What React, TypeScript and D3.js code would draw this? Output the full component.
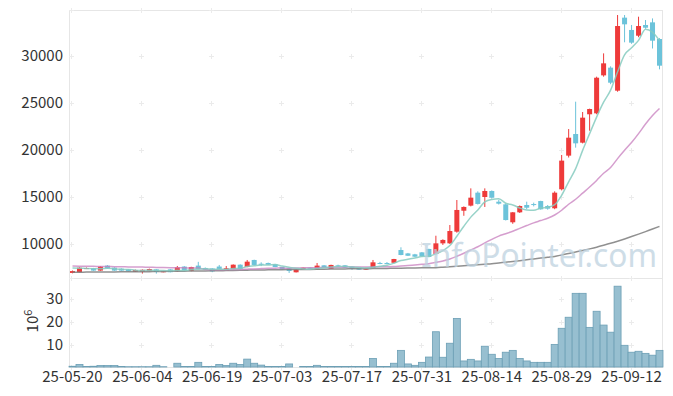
import React from 'react';
import * as d3 from 'd3';

const dates = [
  '25-05-20','25-05-21','25-05-22','25-05-23','25-05-26','25-05-27','25-05-28','25-05-29','25-05-30','25-06-02',
  '25-06-04','25-06-05','25-06-09','25-06-10','25-06-11','25-06-12','25-06-13','25-06-16','25-06-17','25-06-18',
  '25-06-19','25-06-20','25-06-23','25-06-24','25-06-25','25-06-26','25-06-27','25-06-30','25-07-01','25-07-02',
  '25-07-03','25-07-04','25-07-07','25-07-08','25-07-09','25-07-10','25-07-11','25-07-14','25-07-15','25-07-16',
  '25-07-17','25-07-18','25-07-21','25-07-22','25-07-23','25-07-24','25-07-25','25-07-28','25-07-29','25-07-30',
  '25-07-31','25-08-01','25-08-04','25-08-05','25-08-06','25-08-07','25-08-08','25-08-11','25-08-12','25-08-13',
  '25-08-14','25-08-18','25-08-19','25-08-20','25-08-21','25-08-22','25-08-25','25-08-26','25-08-27','25-08-28',
  '25-08-29','25-09-01','25-09-02','25-09-03','25-09-04','25-09-05','25-09-08','25-09-09','25-09-10','25-09-11',
  '25-09-12','25-09-15','25-09-16','25-09-17','25-09-18',
];

const opens = [
  6920,7000,7380,7420,7170,7700,7480,7370,7300,7050,
  7050,7130,7300,7020,7300,7100,7600,7130,7700,7450,
  7400,7600,7190,7340,7800,7550,8300,7900,7980,7850,
  7550,7410,6990,7270,7480,7270,7730,7370,7730,7730,
  7590,7450,7270,7450,7980,7980,8000,9360,9000,8900,
  9110,9470,8940,10070,10070,11310,13540,14080,15460,15000,
  15640,14500,14220,12310,13370,14150,14250,14570,14040,13800,
  15820,19400,21700,20780,23800,23900,27940,28760,26310,34080,
  32770,32160,33300,33580,31810,
];
const highs = [
  7180,7520,7500,7460,7650,7750,7520,7400,7330,7280,
  7300,7380,7320,7130,7330,7660,7650,7580,8100,7500,
  7430,7770,7660,7830,7840,8300,8330,8050,8020,7880,
  7570,7440,7290,7500,7500,7980,7760,7800,7800,7760,
  7620,7470,7470,8300,8100,8080,8420,9650,9050,8950,
  9150,9500,10880,10500,12020,14680,14000,15920,15600,15920,
  15700,14700,14300,13400,14100,14500,14400,14600,14150,15600,
  19470,22230,25140,24040,24400,27800,30280,28900,34360,34360,
  33300,34180,33830,34000,31900,
];
const lows = [
  6880,6980,7350,7150,7150,7380,7150,7150,7080,7020,
  6850,7100,6850,6990,6980,7080,7180,7100,7320,7260,
  7000,7330,7170,7320,7320,7530,7720,7650,7780,7530,
  7280,6920,6970,7250,7380,7250,7460,7350,7580,7460,
  7250,7250,7250,7430,7850,7850,7980,8800,8720,8620,
  8650,8580,8900,9900,10000,11200,13000,14000,14200,13940,
  14850,14200,12500,12150,13300,13700,14000,13650,13650,13700,
  15700,19200,20250,20700,22050,23800,27800,27000,26200,31460,
  31300,32000,32900,30800,28580,
];
const closes = [
  7120,7480,7440,7170,7590,7410,7170,7170,7100,7230,
  7250,7340,7030,7100,7000,7520,7200,7550,7340,7280,
  7080,7350,7420,7800,7340,8120,7770,7820,7800,7550,
  7300,7130,7270,7480,7400,7700,7480,7770,7620,7480,
  7400,7270,7450,8050,7950,7940,8400,8830,8750,8650,
  8690,8620,10070,10430,11380,13620,13940,14930,14260,15640,
  14930,14290,12550,13370,14040,13860,14150,13690,13760,15460,
  18870,21310,20710,23440,24360,27690,29220,27160,33190,33370,
  31420,33190,33010,31630,28970,
];
// volume, millions of shares
const volumes = [
  0.9,1.7,0.8,0.9,1.2,1.2,1.2,0.8,0.7,0.7,
  0.7,0.7,1.3,0.7,0.5,2.2,0.8,0.8,2.6,0.8,
  0.8,1.7,1.2,2.2,1.7,4.0,2.2,1.4,0.8,0.8,
  0.8,1.9,0.2,0.8,0.8,1.3,0.8,0.8,0.8,0.8,
  0.8,0.8,0.8,4.3,0.8,0.8,2.2,7.8,1.9,1.3,
  2.6,4.9,15.9,4.8,10.9,21.7,3.2,3.9,3.2,9.6,
  6.1,4.3,7.0,7.8,4.3,3.2,2.6,2.6,2.6,10.4,
  17.4,22.2,32.6,32.6,17.8,24.8,18.8,15.7,35.7,10.0,
  7.0,7.4,6.5,5.7,7.8,
];
// moving-average values before enough history is available
const ma5Lead = [7450, 7420, 7400, 7380];
const ma20Lead = [7650,7640,7630,7620,7610,7600,7590,7580,7560,7550,7540,7530,7510,7500,7480,7470,7460,7450,7440];
// long moving average (grey line)
const maLong = [
  7000,7005,7010,7015,7020,7025,7030,7035,7040,7045,
  7050,7060,7070,7080,7090,7100,7110,7120,7130,7140,
  7150,7160,7170,7185,7200,7215,7230,7240,7250,7260,
  7270,7275,7280,7290,7300,7310,7320,7330,7340,7350,
  7360,7370,7375,7385,7395,7405,7415,7430,7440,7450,
  7460,7470,7485,7530,7580,7630,7680,7740,7800,7850,
  7900,7980,8060,8140,8230,8320,8410,8500,8590,8680,
  8830,8990,9150,9310,9480,9660,9860,10070,10300,10540,
  10790,11050,11320,11600,11870,
];

const priceTicks = [10000, 15000, 20000, 25000, 30000];
const volTicks = [10, 20, 30];
const xTickLabels = ['25-05-20','25-06-04','25-06-19','25-07-03','25-07-17','25-07-31','25-08-14','25-08-29','25-09-12'];

const W = 673, H = 396;
const L = 69, R = 663;
const PT = 10, PB = 277, VT = 278, VB = 367;
const FONT = '"Noto Sans CJK KR", "Noto Sans", sans-serif';

function movingAvg(n: number, lead: number[]) {
  return closes.map((_, i) => {
    if (i < n - 1) return lead[i];
    return d3.mean(closes.slice(i - n + 1, i + 1)) as number;
  });
}

function Plus({ x, y }: { x: number; y: number }) {
  return (
    <g stroke="#ebebeb" strokeWidth={1}>
      <line x1={x - 2.5} x2={x + 2.5} y1={y} y2={y} />
      <line x1={x} x2={x} y1={y - 2.5} y2={y + 2.5} />
    </g>
  );
}

export default function App() {
  const idx = dates.map((_, i) => i);
  const x = d3.scaleBand<number>().domain(idx).range([L, R]).padding(0);
  const step = x.bandwidth();
  const cx = (i: number) => (x(i) as number) + step / 2;
  const y = d3.scaleLinear().domain([6489, 34894]).range([PB, PT]);
  const yv = d3.scaleLinear().domain([0.57, 39.26]).range([VB, VT]);

  const ma5 = movingAvg(5, ma5Lead);
  const ma20 = movingAvg(20, ma20Lead);
  const line = d3.line<number>().x((_, i) => cx(i)).y((d) => y(d)).curve(d3.curveMonotoneX);

  const tickIdx = xTickLabels.map((t) => dates.indexOf(t));
  const bodyW = 5;
  const up = '#ee3a3a';
  const down = '#6cc3da';

  const plusRows = [PT, ...priceTicks.map((t) => y(t)), PB + 1, ...volTicks.map((t) => yv(t)), VB];

  return (
    <svg width={W} height={H} style={{ position: 'absolute', left: 0, top: 0, background: '#fff' }} fontFamily={FONT}>
      {/* frame */}
      <g stroke="#e6e6e6" strokeWidth={1} fill="none">
        <line x1={L + 0.5} x2={L + 0.5} y1={PT} y2={VB} />
        <line x1={L} x2={R} y1={PT + 0.5} y2={PT + 0.5} />
        <line x1={R - 0.5} x2={R - 0.5} y1={PT} y2={VB} />
        <line x1={L} x2={R} y1={VT + 0.5} y2={VT + 0.5} />
        <line x1={L} x2={R} y1={VB + 0.5} y2={VB + 0.5} />
      </g>
      {/* plus markers */}
      {tickIdx.map((ti) => plusRows.map((ry, k) => <Plus key={`${ti}-${k}`} x={Math.round(cx(ti)) - 0.5} y={Math.round(ry) + 0.5} />))}

      {/* volume bars */}
      <g>
        {volumes.map((v, i) => (
          <rect key={i} x={x(i) as number} y={yv(v)} width={step} height={Math.max(0, VB - yv(v))}
            fill="#97bfd0" stroke="#6c9fb5" strokeWidth={0.8} />
        ))}
      </g>

      {/* candles */}
      <g>
        {idx.map((i) => {
          const o = opens[i], c = closes[i];
          const col = c >= o ? up : down;
          const top = y(Math.max(o, c));
          const bot = y(Math.min(o, c));
          return (
            <g key={i}>
              <line x1={cx(i)} x2={cx(i)} y1={y(highs[i])} y2={y(lows[i])} stroke={col} strokeWidth={1} />
              <rect x={cx(i) - bodyW / 2} y={top} width={bodyW} height={Math.max(1, bot - top)} fill={col} />
            </g>
          );
        })}
      </g>

      {/* moving averages */}
      <path d={line(maLong) as string} fill="none" stroke="#7d7d7d" strokeWidth={1.5} opacity={0.85} />
      <path d={line(ma20) as string} fill="none" stroke="#c77dbd" strokeWidth={1.5} opacity={0.75} />
      <path d={line(ma5) as string} fill="none" stroke="#86cbbf" strokeWidth={1.5} opacity={0.85} />

      {/* watermark */}
      <text x={421} y={267} fontSize={32} fill="#bed2df" opacity={0.75} textLength={236} lengthAdjust="spacingAndGlyphs"
        fontFamily='"Noto Sans", sans-serif'>InfoPointer.com</text>

      {/* y labels */}
      <g fontSize={15} fill="#333" textAnchor="end">
        {priceTicks.map((t) => (
          <text key={t} x={63} y={y(t) + 5}>{t}</text>
        ))}
        {volTicks.map((t) => (
          <text key={t} x={63} y={yv(t) + 5}>{t}</text>
        ))}
      </g>
      <text transform="translate(37.5,321) rotate(-90)" fontSize={15} fill="#333" textAnchor="middle">
        10<tspan dy={-6} fontSize={11}>6</tspan>
      </text>

      {/* x labels */}
      <g fontSize={15} fill="#333" textAnchor="middle">
        {tickIdx.map((ti, k) => (
          <text key={k} x={cx(ti)} y={382}>{xTickLabels[k]}</text>
        ))}
      </g>
    </svg>
  );
}
